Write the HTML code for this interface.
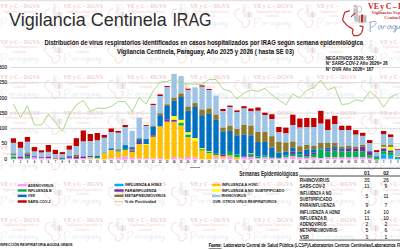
<!DOCTYPE html>
<html><head><meta charset="utf-8">
<style>
html,body{margin:0;padding:0;background:#fff;width:400px;height:250px;overflow:hidden}
svg{display:block;position:absolute;left:0;top:0}
text{font-family:"Liberation Sans",sans-serif;fill:#1a1a1a}
.title{font-size:18.1px;fill:#2e2e2e}
.sub{font-size:6.5px;font-weight:bold;fill:#111}
.st{font-size:4.5px;font-weight:bold;fill:#111}
.yl{font-size:5.1px;fill:#262626;stroke:#262626;stroke-width:0.12px}
.xl{font-size:2.6px;font-weight:bold;fill:#333}
.lg{font-size:4.2px;font-weight:bold;fill:#1a1a1a}
.sem{font-size:6.3px;font-weight:bold;fill:#222}
.tiny{font-size:2.2px;font-weight:bold}
.tb{font-size:4.9px;font-weight:bold;fill:#1a1a1a}
.tv{font-size:5px;fill:#111;stroke:#111;stroke-width:0.05px}
.th{font-size:5px;font-weight:bold;fill:#111}
.ft{font-size:4.3px;font-weight:bold;fill:#111}
.src{font-size:4.6px;fill:#000;stroke:#000;stroke-width:0.1px}
</style></head>
<body>
<svg width="400" height="250" viewBox="0 0 400 250">
<defs><g id="wm">
<g transform="scale(0.74) translate(-368,-6.7)"><path d="M349.4,10.9 L344.8,12.2 C344,14 343.2,17 342.6,19.8 C343.2,21.5 344,22.3 344.8,22.8 C346,24.5 347.5,25.8 348.6,26.6 C350.5,27.6 352,28.5 353.2,29.6 C352.6,30.6 352.3,31.8 352.4,32.7 C353,34.2 353.5,35.3 354,35.7 L357.8,35.7 C359.6,34.8 361,33.8 361.6,32.7 C362.6,30.5 363,28.5 363,26.6 L360,25.8" fill="none" stroke="#f1cfd0" stroke-width="1.0" stroke-linejoin="round" stroke-linecap="round"/>
<circle cx="355.4" cy="6.2" r="1.8" fill="#f0f0f0"/>
<path d="M353.6,8.2 C353,11 353.2,15 354.2,18.5 L354.6,21.8 L358.2,21.8 L357.8,16 C358.2,13 357.8,10 357,8.2 Z" fill="#f0f0f0"/>
<rect x="357.9" y="15" width="8.8" height="7.7" fill="#f3f3f3"/>
<rect x="358.8" y="15.8" width="1.2" height="6.8" fill="#ececec"/>
<rect x="364.6" y="15.8" width="1.2" height="6.8" fill="#ececec"/>
<ellipse cx="359.4" cy="9.2" rx="2.2" ry="3.2" fill="none" stroke="#ececec" stroke-width="0.7"/>
<path d="M351.2,16.6 L354.8,13.4" stroke="#f1cfd0" stroke-width="0.9" stroke-linecap="round"/>
<rect x="361" y="14.5" width="2.2" height="8.2" fill="#f1cfd0"/></g>
<text x="0" y="2.1" font-weight="bold" style="font-family:'Liberation Serif',serif;font-size:5.8px;fill:#f1cdcf" textLength="39.4" lengthAdjust="spacingAndGlyphs">VE y C – DGVS</text>
<text x="2.4" y="6.9" style="font-family:'Liberation Serif',serif;font-size:3.2px;fill:#f2cfcf" textLength="36" lengthAdjust="spacingAndGlyphs">Vigilancias Especiales y</text>
<text x="12.4" y="11.2" style="font-family:'Liberation Serif',serif;font-size:3.2px;fill:#f2cfcf" textLength="13" lengthAdjust="spacingAndGlyphs">Centinela</text>
<path transform="translate(0.4,12.2) scale(0.92) translate(-369.4,-21.4)" d="M370.3,22 C370.4,25 370.1,28.5 369.9,31.3 C370,31.8 370.6,31.8 371,31.4 M369.4,22.6 C371,21.4 374,21 375.6,21.8 C376.6,22.8 376,24.6 374.6,25.6 C373.4,26.6 372,27.2 370.9,27.3 M381.6,26.2 C380.6,25.4 379,25.6 378.4,26.8 C377.9,28 378.3,29 379.2,29 C380.2,28.9 381.3,27.2 381.7,25.8 C381.6,27.4 381.8,28.8 382.6,29 C383.2,28.8 383.4,27.4 383.6,26.2 C384.2,25.6 385.2,25.8 386,26.4 M390.8,26.2 C389.8,25.4 388.2,25.6 387.6,26.8 C387.1,28 387.5,29 388.4,29 C389.4,28.9 390.5,27.2 390.9,25.8 C390.8,27.4 391,28.8 391.8,29 M395.6,26 C394.6,25.4 393,25.7 392.6,26.9 C392.3,28.1 393,28.9 393.9,28.7 C394.9,28.4 395.6,27 395.8,25.8 C395.9,27.8 395.8,30.5 395.2,31.8 C394.6,32.6 393.4,32.2 393.6,31.2 C394.2,30.2 395.6,29.6 396.8,29 M397,26 C396.8,27.4 397.1,28.8 397.9,28.9 C398.8,28.9 399.5,27.4 399.8,25.9 C399.8,27.4 400,28.6 400.5,29 C401.2,27.6 401.4,26.2 401.4,26.2 M404.6,26.2 C403.6,25.4 402,25.6 401.4,26.8 C400.9,28 401.3,29 402.2,29 C403.2,28.9 404.3,27.2 404.7,25.8 C404.6,27.4 404.8,28.8 405.6,29 M406.2,26 C406,27.4 406.3,28.8 407.1,28.9 C408,28.9 408.7,27.4 409,25.9 C409.1,28 409,30.5 408.4,31.8 C407.8,32.6 406.6,32.2 406.8,31.2 C407.4,30.2 408.8,29.6 410,29" fill="none" stroke="#e4e9ef" stroke-width="0.7" stroke-linecap="round" stroke-linejoin="round"/>
</g></defs>
<g opacity="1"><use href="#wm" x="-63.00" y="-29.80"/>
<use href="#wm" x="0.30" y="-29.80"/>
<use href="#wm" x="63.60" y="-29.80"/>
<use href="#wm" x="126.90" y="-29.80"/>
<use href="#wm" x="190.20" y="-29.80"/>
<use href="#wm" x="253.50" y="-29.80"/>
<use href="#wm" x="316.80" y="-29.80"/>
<use href="#wm" x="380.10" y="-29.80"/>
<use href="#wm" x="443.40" y="-29.80"/>
<use href="#wm" x="-63.00" y="5.80"/>
<use href="#wm" x="0.30" y="5.80"/>
<use href="#wm" x="63.60" y="5.80"/>
<use href="#wm" x="126.90" y="5.80"/>
<use href="#wm" x="190.20" y="5.80"/>
<use href="#wm" x="253.50" y="5.80"/>
<use href="#wm" x="316.80" y="5.80"/>
<use href="#wm" x="380.10" y="5.80"/>
<use href="#wm" x="443.40" y="5.80"/>
<use href="#wm" x="-63.00" y="41.40"/>
<use href="#wm" x="0.30" y="41.40"/>
<use href="#wm" x="63.60" y="41.40"/>
<use href="#wm" x="126.90" y="41.40"/>
<use href="#wm" x="190.20" y="41.40"/>
<use href="#wm" x="253.50" y="41.40"/>
<use href="#wm" x="316.80" y="41.40"/>
<use href="#wm" x="380.10" y="41.40"/>
<use href="#wm" x="443.40" y="41.40"/>
<use href="#wm" x="-63.00" y="77.00"/>
<use href="#wm" x="0.30" y="77.00"/>
<use href="#wm" x="63.60" y="77.00"/>
<use href="#wm" x="126.90" y="77.00"/>
<use href="#wm" x="190.20" y="77.00"/>
<use href="#wm" x="253.50" y="77.00"/>
<use href="#wm" x="316.80" y="77.00"/>
<use href="#wm" x="380.10" y="77.00"/>
<use href="#wm" x="443.40" y="77.00"/>
<use href="#wm" x="-63.00" y="112.60"/>
<use href="#wm" x="0.30" y="112.60"/>
<use href="#wm" x="63.60" y="112.60"/>
<use href="#wm" x="126.90" y="112.60"/>
<use href="#wm" x="190.20" y="112.60"/>
<use href="#wm" x="253.50" y="112.60"/>
<use href="#wm" x="316.80" y="112.60"/>
<use href="#wm" x="380.10" y="112.60"/>
<use href="#wm" x="443.40" y="112.60"/>
<use href="#wm" x="-63.00" y="148.20"/>
<use href="#wm" x="0.30" y="148.20"/>
<use href="#wm" x="63.60" y="148.20"/>
<use href="#wm" x="126.90" y="148.20"/>
<use href="#wm" x="190.20" y="148.20"/>
<use href="#wm" x="253.50" y="148.20"/>
<use href="#wm" x="316.80" y="148.20"/>
<use href="#wm" x="380.10" y="148.20"/>
<use href="#wm" x="443.40" y="148.20"/>
<use href="#wm" x="-63.00" y="183.80"/>
<use href="#wm" x="0.30" y="183.80"/>
<use href="#wm" x="63.60" y="183.80"/>
<use href="#wm" x="126.90" y="183.80"/>
<use href="#wm" x="190.20" y="183.80"/>
<use href="#wm" x="253.50" y="183.80"/>
<use href="#wm" x="316.80" y="183.80"/>
<use href="#wm" x="380.10" y="183.80"/>
<use href="#wm" x="443.40" y="183.80"/>
<use href="#wm" x="-63.00" y="219.40"/>
<use href="#wm" x="0.30" y="219.40"/>
<use href="#wm" x="63.60" y="219.40"/>
<use href="#wm" x="126.90" y="219.40"/>
<use href="#wm" x="190.20" y="219.40"/>
<use href="#wm" x="253.50" y="219.40"/>
<use href="#wm" x="316.80" y="219.40"/>
<use href="#wm" x="380.10" y="219.40"/>
<use href="#wm" x="443.40" y="219.40"/>
<use href="#wm" x="-63.00" y="255.00"/>
<use href="#wm" x="0.30" y="255.00"/>
<use href="#wm" x="63.60" y="255.00"/>
<use href="#wm" x="126.90" y="255.00"/>
<use href="#wm" x="190.20" y="255.00"/>
<use href="#wm" x="253.50" y="255.00"/>
<use href="#wm" x="316.80" y="255.00"/>
<use href="#wm" x="380.10" y="255.00"/>
<use href="#wm" x="443.40" y="255.00"/></g>
<rect x="0" y="0" width="400" height="1.3" fill="#e3e3e3"/>
<line x1="10.5" y1="67.5" x2="400" y2="67.5" stroke="#d4d4d4" stroke-width="0.8"/>
<line x1="10.5" y1="82.6" x2="400" y2="82.6" stroke="#d4d4d4" stroke-width="0.8"/>
<line x1="10.5" y1="97.85" x2="400" y2="97.85" stroke="#d4d4d4" stroke-width="0.8"/>
<line x1="10.5" y1="113.1" x2="400" y2="113.1" stroke="#d4d4d4" stroke-width="0.8"/>
<line x1="10.5" y1="128.35" x2="400" y2="128.35" stroke="#d4d4d4" stroke-width="0.8"/>
<line x1="10.5" y1="143.6" x2="400" y2="143.6" stroke="#d4d4d4" stroke-width="0.8"/>
<text x="7.2" y="69.25" text-anchor="end" class="yl">300</text>
<text x="7.2" y="84.35" text-anchor="end" class="yl">250</text>
<text x="7.2" y="99.60" text-anchor="end" class="yl">200</text>
<text x="7.2" y="114.85" text-anchor="end" class="yl">150</text>
<text x="7.2" y="130.10" text-anchor="end" class="yl">100</text>
<text x="7.2" y="145.35" text-anchor="end" class="yl">50</text>
<text x="7.2" y="160.65" text-anchor="end" class="yl">0</text>
<line x1="380.2" y1="60" x2="380.2" y2="168" stroke="#ececec" stroke-width="0.6"/>
<rect x="10.80" y="138.30" width="5.3" height="4.60" fill="#c00000"/>
<rect x="10.80" y="142.90" width="5.3" height="10.60" fill="#9dc3e6"/>
<rect x="10.80" y="153.50" width="5.3" height="0.90" fill="#8f7a2a"/>
<rect x="10.80" y="154.40" width="5.3" height="1.20" fill="#0070c0"/>
<rect x="10.80" y="155.60" width="5.3" height="0.90" fill="#ffff00"/>
<rect x="10.80" y="156.50" width="5.3" height="2.30" fill="#00b050"/>
<rect x="10.80" y="158.80" width="5.3" height="0.60" fill="#ff99ff"/>
<rect x="17.79" y="141.80" width="5.3" height="6.10" fill="#c00000"/>
<rect x="17.79" y="147.90" width="5.3" height="8.80" fill="#9dc3e6"/>
<rect x="17.79" y="156.70" width="5.3" height="1.90" fill="#7030a0"/>
<rect x="17.79" y="158.60" width="5.3" height="0.80" fill="#ff99ff"/>
<rect x="24.77" y="137.00" width="5.3" height="4.80" fill="#c00000"/>
<rect x="24.77" y="141.80" width="5.3" height="10.70" fill="#9dc3e6"/>
<rect x="24.77" y="152.50" width="5.3" height="1.30" fill="#8f7a2a"/>
<rect x="24.77" y="153.80" width="5.3" height="0.80" fill="#0070c0"/>
<rect x="24.77" y="154.60" width="5.3" height="1.60" fill="#7030a0"/>
<rect x="24.77" y="156.20" width="5.3" height="2.40" fill="#00b050"/>
<rect x="24.77" y="158.60" width="5.3" height="0.80" fill="#ff99ff"/>
<rect x="31.76" y="147.10" width="5.3" height="4.50" fill="#c00000"/>
<rect x="31.76" y="151.60" width="5.3" height="4.40" fill="#9dc3e6"/>
<rect x="31.76" y="156.00" width="5.3" height="0.60" fill="#0070c0"/>
<rect x="31.76" y="156.60" width="5.3" height="1.00" fill="#7030a0"/>
<rect x="31.76" y="157.60" width="5.3" height="1.80" fill="#ff99ff"/>
<rect x="38.74" y="150.30" width="5.3" height="2.40" fill="#c00000"/>
<rect x="38.74" y="152.70" width="5.3" height="4.30" fill="#9dc3e6"/>
<rect x="38.74" y="157.00" width="5.3" height="0.60" fill="#0070c0"/>
<rect x="38.74" y="157.60" width="5.3" height="0.60" fill="#7030a0"/>
<rect x="38.74" y="158.20" width="5.3" height="1.20" fill="#ff99ff"/>
<rect x="45.73" y="145.00" width="5.3" height="6.90" fill="#c00000"/>
<rect x="45.73" y="151.90" width="5.3" height="4.80" fill="#9dc3e6"/>
<rect x="45.73" y="156.70" width="5.3" height="1.60" fill="#7030a0"/>
<rect x="45.73" y="158.30" width="5.3" height="1.10" fill="#ff99ff"/>
<rect x="52.71" y="149.80" width="5.3" height="4.30" fill="#c00000"/>
<rect x="52.71" y="154.10" width="5.3" height="3.70" fill="#9dc3e6"/>
<rect x="52.71" y="157.80" width="5.3" height="1.00" fill="#8f7a2a"/>
<rect x="52.71" y="158.80" width="5.3" height="0.60" fill="#ff99ff"/>
<rect x="59.70" y="152.10" width="5.3" height="2.30" fill="#c00000"/>
<rect x="59.70" y="154.40" width="5.3" height="3.10" fill="#9dc3e6"/>
<rect x="59.70" y="157.50" width="5.3" height="0.80" fill="#8f7a2a"/>
<rect x="59.70" y="158.30" width="5.3" height="1.10" fill="#0070c0"/>
<rect x="66.68" y="145.60" width="5.3" height="4.15" fill="#c00000"/>
<rect x="66.68" y="149.75" width="5.3" height="6.45" fill="#9dc3e6"/>
<rect x="66.68" y="156.20" width="5.3" height="1.10" fill="#0070c0"/>
<rect x="66.68" y="157.30" width="5.3" height="1.20" fill="#7030a0"/>
<rect x="66.68" y="158.50" width="5.3" height="0.90" fill="#ff99ff"/>
<rect x="73.66" y="138.20" width="5.3" height="8.00" fill="#c00000"/>
<rect x="73.66" y="146.20" width="5.3" height="8.80" fill="#9dc3e6"/>
<rect x="73.66" y="155.00" width="5.3" height="1.90" fill="#8f7a2a"/>
<rect x="73.66" y="156.90" width="5.3" height="1.90" fill="#7030a0"/>
<rect x="73.66" y="158.80" width="5.3" height="0.60" fill="#ff99ff"/>
<rect x="80.65" y="130.50" width="5.3" height="11.10" fill="#c00000"/>
<rect x="80.65" y="141.60" width="5.3" height="14.90" fill="#9dc3e6"/>
<rect x="80.65" y="156.50" width="5.3" height="1.90" fill="#7030a0"/>
<rect x="80.65" y="158.40" width="5.3" height="1.00" fill="#ff99ff"/>
<rect x="87.64" y="134.00" width="5.3" height="7.30" fill="#c00000"/>
<rect x="87.64" y="141.30" width="5.3" height="14.70" fill="#9dc3e6"/>
<rect x="87.64" y="156.00" width="5.3" height="1.25" fill="#0070c0"/>
<rect x="87.64" y="157.25" width="5.3" height="1.50" fill="#ffc000"/>
<rect x="87.64" y="158.75" width="5.3" height="0.65" fill="#ff99ff"/>
<rect x="94.62" y="133.00" width="5.3" height="7.50" fill="#c00000"/>
<rect x="94.62" y="140.50" width="5.3" height="15.50" fill="#9dc3e6"/>
<rect x="94.62" y="156.00" width="5.3" height="1.00" fill="#0070c0"/>
<rect x="94.62" y="157.00" width="5.3" height="1.10" fill="#00b050"/>
<rect x="94.62" y="158.10" width="5.3" height="0.80" fill="#ffc000"/>
<rect x="94.62" y="158.90" width="5.3" height="0.50" fill="#ff99ff"/>
<rect x="101.61" y="134.90" width="5.3" height="2.90" fill="#c00000"/>
<rect x="101.61" y="137.80" width="5.3" height="14.80" fill="#9dc3e6"/>
<rect x="101.61" y="152.60" width="5.3" height="1.00" fill="#8f7a2a"/>
<rect x="101.61" y="153.60" width="5.3" height="5.80" fill="#ffc000"/>
<rect x="108.59" y="128.50" width="5.3" height="3.50" fill="#c00000"/>
<rect x="108.59" y="132.00" width="5.3" height="16.40" fill="#9dc3e6"/>
<rect x="108.59" y="148.40" width="5.3" height="1.70" fill="#0070c0"/>
<rect x="108.59" y="150.10" width="5.3" height="8.30" fill="#ffc000"/>
<rect x="108.59" y="158.40" width="5.3" height="1.00" fill="#ff99ff"/>
<rect x="115.58" y="130.90" width="5.3" height="1.90" fill="#c00000"/>
<rect x="115.58" y="132.80" width="5.3" height="16.50" fill="#9dc3e6"/>
<rect x="115.58" y="149.30" width="5.3" height="1.20" fill="#8f7a2a"/>
<rect x="115.58" y="150.50" width="5.3" height="1.10" fill="#0070c0"/>
<rect x="115.58" y="151.60" width="5.3" height="5.80" fill="#ffc000"/>
<rect x="115.58" y="157.40" width="5.3" height="2.00" fill="#ff99ff"/>
<rect x="122.56" y="125.00" width="5.3" height="2.00" fill="#c00000"/>
<rect x="122.56" y="127.00" width="5.3" height="18.20" fill="#9dc3e6"/>
<rect x="122.56" y="145.20" width="5.3" height="3.70" fill="#0070c0"/>
<rect x="122.56" y="148.90" width="5.3" height="1.10" fill="#00b050"/>
<rect x="122.56" y="150.00" width="5.3" height="6.60" fill="#ffc000"/>
<rect x="122.56" y="156.60" width="5.3" height="2.80" fill="#ff99ff"/>
<rect x="129.54" y="130.90" width="5.3" height="16.30" fill="#9dc3e6"/>
<rect x="129.54" y="147.20" width="5.3" height="2.20" fill="#0070c0"/>
<rect x="129.54" y="149.40" width="5.3" height="1.20" fill="#8f7a2a"/>
<rect x="129.54" y="150.60" width="5.3" height="1.30" fill="#7030a0"/>
<rect x="129.54" y="151.90" width="5.3" height="5.90" fill="#ffc000"/>
<rect x="129.54" y="157.80" width="5.3" height="1.60" fill="#ff99ff"/>
<rect x="136.53" y="117.70" width="5.3" height="20.50" fill="#9dc3e6"/>
<rect x="136.53" y="138.20" width="5.3" height="0.90" fill="#8f7a2a"/>
<rect x="136.53" y="139.10" width="5.3" height="2.90" fill="#0070c0"/>
<rect x="136.53" y="142.00" width="5.3" height="2.00" fill="#7030a0"/>
<rect x="136.53" y="144.00" width="5.3" height="14.40" fill="#ffc000"/>
<rect x="136.53" y="158.40" width="5.3" height="1.00" fill="#ff99ff"/>
<rect x="143.51" y="125.10" width="5.3" height="1.10" fill="#c00000"/>
<rect x="143.51" y="126.20" width="5.3" height="12.90" fill="#9dc3e6"/>
<rect x="143.51" y="139.10" width="5.3" height="4.90" fill="#0070c0"/>
<rect x="143.51" y="144.00" width="5.3" height="1.00" fill="#ffff00"/>
<rect x="143.51" y="145.00" width="5.3" height="13.40" fill="#ffc000"/>
<rect x="143.51" y="158.40" width="5.3" height="1.00" fill="#ff99ff"/>
<rect x="150.50" y="103.80" width="5.3" height="1.30" fill="#c00000"/>
<rect x="150.50" y="105.10" width="5.3" height="20.60" fill="#9dc3e6"/>
<rect x="150.50" y="125.70" width="5.3" height="0.90" fill="#8f7a2a"/>
<rect x="150.50" y="126.60" width="5.3" height="8.70" fill="#0070c0"/>
<rect x="150.50" y="135.30" width="5.3" height="1.50" fill="#7030a0"/>
<rect x="150.50" y="136.80" width="5.3" height="21.60" fill="#ffc000"/>
<rect x="150.50" y="158.40" width="5.3" height="1.00" fill="#ff99ff"/>
<rect x="157.48" y="94.40" width="5.3" height="1.60" fill="#c00000"/>
<rect x="157.48" y="96.00" width="5.3" height="17.30" fill="#9dc3e6"/>
<rect x="157.48" y="113.30" width="5.3" height="1.90" fill="#8f7a2a"/>
<rect x="157.48" y="115.20" width="5.3" height="11.40" fill="#0070c0"/>
<rect x="157.48" y="126.60" width="5.3" height="31.40" fill="#ffc000"/>
<rect x="157.48" y="158.00" width="5.3" height="1.40" fill="#ff99ff"/>
<rect x="164.47" y="86.00" width="5.3" height="1.30" fill="#c00000"/>
<rect x="164.47" y="87.30" width="5.3" height="17.00" fill="#9dc3e6"/>
<rect x="164.47" y="104.30" width="5.3" height="1.70" fill="#8f7a2a"/>
<rect x="164.47" y="106.00" width="5.3" height="13.30" fill="#0070c0"/>
<rect x="164.47" y="119.30" width="5.3" height="2.50" fill="#7030a0"/>
<rect x="164.47" y="121.80" width="5.3" height="37.60" fill="#ffc000"/>
<rect x="171.45" y="73.85" width="5.3" height="24.05" fill="#9dc3e6"/>
<rect x="171.45" y="97.90" width="5.3" height="2.90" fill="#8f7a2a"/>
<rect x="171.45" y="100.80" width="5.3" height="15.40" fill="#0070c0"/>
<rect x="171.45" y="116.20" width="5.3" height="3.70" fill="#ffff00"/>
<rect x="171.45" y="119.90" width="5.3" height="1.90" fill="#7030a0"/>
<rect x="171.45" y="121.80" width="5.3" height="35.20" fill="#ffc000"/>
<rect x="171.45" y="157.00" width="5.3" height="2.40" fill="#ff99ff"/>
<rect x="178.44" y="76.20" width="5.3" height="17.30" fill="#9dc3e6"/>
<rect x="178.44" y="93.50" width="5.3" height="3.50" fill="#8f7a2a"/>
<rect x="178.44" y="97.00" width="5.3" height="22.90" fill="#0070c0"/>
<rect x="178.44" y="119.90" width="5.3" height="2.90" fill="#ffff00"/>
<rect x="178.44" y="122.80" width="5.3" height="2.90" fill="#00b050"/>
<rect x="178.44" y="125.70" width="5.3" height="32.70" fill="#ffc000"/>
<rect x="178.44" y="158.40" width="5.3" height="1.00" fill="#ff99ff"/>
<rect x="185.42" y="88.70" width="5.3" height="1.20" fill="#c00000"/>
<rect x="185.42" y="89.90" width="5.3" height="16.70" fill="#9dc3e6"/>
<rect x="185.42" y="106.60" width="5.3" height="4.20" fill="#8f7a2a"/>
<rect x="185.42" y="110.80" width="5.3" height="21.60" fill="#0070c0"/>
<rect x="185.42" y="132.40" width="5.3" height="2.30" fill="#ffff00"/>
<rect x="185.42" y="134.70" width="5.3" height="2.50" fill="#00b050"/>
<rect x="185.42" y="137.20" width="5.3" height="19.80" fill="#ffc000"/>
<rect x="185.42" y="157.00" width="5.3" height="2.40" fill="#ff99ff"/>
<rect x="192.41" y="87.30" width="5.3" height="15.80" fill="#9dc3e6"/>
<rect x="192.41" y="103.10" width="5.3" height="3.90" fill="#8f7a2a"/>
<rect x="192.41" y="107.00" width="5.3" height="31.20" fill="#0070c0"/>
<rect x="192.41" y="138.20" width="5.3" height="2.80" fill="#ffff00"/>
<rect x="192.41" y="141.00" width="5.3" height="16.40" fill="#ffc000"/>
<rect x="192.41" y="157.40" width="5.3" height="2.00" fill="#ff99ff"/>
<rect x="199.39" y="85.40" width="5.3" height="1.40" fill="#c00000"/>
<rect x="199.39" y="86.80" width="5.3" height="22.70" fill="#9dc3e6"/>
<rect x="199.39" y="109.50" width="5.3" height="5.70" fill="#8f7a2a"/>
<rect x="199.39" y="115.20" width="5.3" height="32.90" fill="#0070c0"/>
<rect x="199.39" y="148.10" width="5.3" height="1.10" fill="#ffff00"/>
<rect x="199.39" y="149.20" width="5.3" height="1.40" fill="#00b050"/>
<rect x="199.39" y="150.60" width="5.3" height="8.80" fill="#ffc000"/>
<rect x="206.38" y="88.90" width="5.3" height="1.30" fill="#c00000"/>
<rect x="206.38" y="90.20" width="5.3" height="18.30" fill="#9dc3e6"/>
<rect x="206.38" y="108.50" width="5.3" height="5.40" fill="#8f7a2a"/>
<rect x="206.38" y="113.90" width="5.3" height="37.10" fill="#0070c0"/>
<rect x="206.38" y="151.00" width="5.3" height="0.70" fill="#ffff00"/>
<rect x="206.38" y="151.70" width="5.3" height="1.40" fill="#00b050"/>
<rect x="206.38" y="153.10" width="5.3" height="6.30" fill="#ffc000"/>
<rect x="213.36" y="95.60" width="5.3" height="19.10" fill="#9dc3e6"/>
<rect x="213.36" y="114.70" width="5.3" height="5.20" fill="#8f7a2a"/>
<rect x="213.36" y="119.90" width="5.3" height="33.85" fill="#0070c0"/>
<rect x="213.36" y="153.75" width="5.3" height="1.25" fill="#00b050"/>
<rect x="213.36" y="155.00" width="5.3" height="2.50" fill="#ffc000"/>
<rect x="213.36" y="157.50" width="5.3" height="1.90" fill="#ff99ff"/>
<rect x="220.35" y="109.00" width="5.3" height="2.00" fill="#c00000"/>
<rect x="220.35" y="111.00" width="5.3" height="16.60" fill="#9dc3e6"/>
<rect x="220.35" y="127.60" width="5.3" height="3.80" fill="#8f7a2a"/>
<rect x="220.35" y="131.40" width="5.3" height="23.10" fill="#0070c0"/>
<rect x="220.35" y="154.50" width="5.3" height="2.00" fill="#7030a0"/>
<rect x="220.35" y="156.50" width="5.3" height="1.90" fill="#ffc000"/>
<rect x="220.35" y="158.40" width="5.3" height="1.00" fill="#ff99ff"/>
<rect x="227.33" y="105.60" width="5.3" height="1.60" fill="#c00000"/>
<rect x="227.33" y="107.20" width="5.3" height="18.50" fill="#9dc3e6"/>
<rect x="227.33" y="125.70" width="5.3" height="5.20" fill="#8f7a2a"/>
<rect x="227.33" y="130.90" width="5.3" height="21.00" fill="#0070c0"/>
<rect x="227.33" y="151.90" width="5.3" height="3.70" fill="#00b050"/>
<rect x="227.33" y="155.60" width="5.3" height="1.40" fill="#ffc000"/>
<rect x="227.33" y="157.00" width="5.3" height="2.40" fill="#ff99ff"/>
<rect x="234.32" y="110.40" width="5.3" height="1.60" fill="#c00000"/>
<rect x="234.32" y="112.00" width="5.3" height="17.00" fill="#9dc3e6"/>
<rect x="234.32" y="129.00" width="5.3" height="6.30" fill="#8f7a2a"/>
<rect x="234.32" y="135.30" width="5.3" height="19.20" fill="#0070c0"/>
<rect x="234.32" y="154.50" width="5.3" height="2.90" fill="#00b050"/>
<rect x="234.32" y="157.40" width="5.3" height="2.00" fill="#ffc000"/>
<rect x="241.31" y="106.20" width="5.3" height="2.30" fill="#c00000"/>
<rect x="241.31" y="108.50" width="5.3" height="16.50" fill="#9dc3e6"/>
<rect x="241.31" y="125.00" width="5.3" height="9.70" fill="#8f7a2a"/>
<rect x="241.31" y="134.70" width="5.3" height="21.80" fill="#0070c0"/>
<rect x="241.31" y="156.50" width="5.3" height="0.90" fill="#7030a0"/>
<rect x="241.31" y="157.40" width="5.3" height="2.00" fill="#ff99ff"/>
<rect x="248.29" y="108.50" width="5.3" height="2.90" fill="#c00000"/>
<rect x="248.29" y="111.40" width="5.3" height="14.30" fill="#9dc3e6"/>
<rect x="248.29" y="125.70" width="5.3" height="9.60" fill="#8f7a2a"/>
<rect x="248.29" y="135.30" width="5.3" height="17.80" fill="#0070c0"/>
<rect x="248.29" y="153.10" width="5.3" height="0.60" fill="#ffff00"/>
<rect x="248.29" y="153.70" width="5.3" height="1.00" fill="#7030a0"/>
<rect x="248.29" y="154.70" width="5.3" height="2.20" fill="#00b050"/>
<rect x="248.29" y="156.90" width="5.3" height="2.50" fill="#ff99ff"/>
<rect x="255.28" y="107.50" width="5.3" height="3.30" fill="#c00000"/>
<rect x="255.28" y="110.80" width="5.3" height="21.20" fill="#9dc3e6"/>
<rect x="255.28" y="132.00" width="5.3" height="10.00" fill="#8f7a2a"/>
<rect x="255.28" y="142.00" width="5.3" height="14.50" fill="#0070c0"/>
<rect x="255.28" y="156.50" width="5.3" height="1.90" fill="#00b050"/>
<rect x="255.28" y="158.40" width="5.3" height="1.00" fill="#ff99ff"/>
<rect x="262.26" y="112.70" width="5.3" height="2.50" fill="#c00000"/>
<rect x="262.26" y="115.20" width="5.3" height="16.80" fill="#9dc3e6"/>
<rect x="262.26" y="132.00" width="5.3" height="10.00" fill="#8f7a2a"/>
<rect x="262.26" y="142.00" width="5.3" height="13.50" fill="#0070c0"/>
<rect x="262.26" y="155.50" width="5.3" height="1.90" fill="#00b050"/>
<rect x="262.26" y="157.40" width="5.3" height="2.00" fill="#ff99ff"/>
<rect x="269.25" y="114.30" width="5.3" height="4.70" fill="#c00000"/>
<rect x="269.25" y="119.00" width="5.3" height="17.20" fill="#9dc3e6"/>
<rect x="269.25" y="136.20" width="5.3" height="11.60" fill="#8f7a2a"/>
<rect x="269.25" y="147.80" width="5.3" height="9.60" fill="#0070c0"/>
<rect x="269.25" y="157.40" width="5.3" height="1.00" fill="#00b050"/>
<rect x="269.25" y="158.40" width="5.3" height="1.00" fill="#ff99ff"/>
<rect x="276.23" y="127.00" width="5.3" height="5.40" fill="#c00000"/>
<rect x="276.23" y="132.40" width="5.3" height="9.60" fill="#9dc3e6"/>
<rect x="276.23" y="142.00" width="5.3" height="10.60" fill="#8f7a2a"/>
<rect x="276.23" y="152.60" width="5.3" height="4.40" fill="#0070c0"/>
<rect x="276.23" y="157.00" width="5.3" height="1.40" fill="#00b050"/>
<rect x="276.23" y="158.40" width="5.3" height="1.00" fill="#ff99ff"/>
<rect x="283.22" y="127.60" width="5.3" height="5.80" fill="#c00000"/>
<rect x="283.22" y="133.40" width="5.3" height="9.20" fill="#9dc3e6"/>
<rect x="283.22" y="142.60" width="5.3" height="9.00" fill="#8f7a2a"/>
<rect x="283.22" y="151.60" width="5.3" height="3.90" fill="#0070c0"/>
<rect x="283.22" y="155.50" width="5.3" height="1.90" fill="#00b050"/>
<rect x="283.22" y="157.40" width="5.3" height="2.00" fill="#ff99ff"/>
<rect x="290.20" y="114.70" width="5.3" height="10.30" fill="#c00000"/>
<rect x="290.20" y="125.00" width="5.3" height="16.60" fill="#9dc3e6"/>
<rect x="290.20" y="141.60" width="5.3" height="6.20" fill="#8f7a2a"/>
<rect x="290.20" y="147.80" width="5.3" height="3.80" fill="#0070c0"/>
<rect x="290.20" y="151.60" width="5.3" height="2.40" fill="#7030a0"/>
<rect x="290.20" y="154.00" width="5.3" height="2.50" fill="#00b050"/>
<rect x="290.20" y="156.50" width="5.3" height="2.90" fill="#ff99ff"/>
<rect x="297.19" y="118.50" width="5.3" height="9.10" fill="#c00000"/>
<rect x="297.19" y="127.60" width="5.3" height="18.70" fill="#9dc3e6"/>
<rect x="297.19" y="146.30" width="5.3" height="5.30" fill="#8f7a2a"/>
<rect x="297.19" y="151.60" width="5.3" height="2.90" fill="#0070c0"/>
<rect x="297.19" y="154.50" width="5.3" height="2.90" fill="#00b050"/>
<rect x="297.19" y="157.40" width="5.3" height="2.00" fill="#ff99ff"/>
<rect x="304.17" y="118.00" width="5.3" height="9.00" fill="#c00000"/>
<rect x="304.17" y="127.00" width="5.3" height="18.00" fill="#9dc3e6"/>
<rect x="304.17" y="145.00" width="5.3" height="4.70" fill="#8f7a2a"/>
<rect x="304.17" y="149.70" width="5.3" height="4.40" fill="#0070c0"/>
<rect x="304.17" y="154.10" width="5.3" height="2.40" fill="#7030a0"/>
<rect x="304.17" y="156.50" width="5.3" height="1.30" fill="#00b050"/>
<rect x="304.17" y="157.80" width="5.3" height="1.60" fill="#ff99ff"/>
<rect x="311.16" y="118.00" width="5.3" height="9.00" fill="#c00000"/>
<rect x="311.16" y="127.00" width="5.3" height="18.90" fill="#9dc3e6"/>
<rect x="311.16" y="145.90" width="5.3" height="3.40" fill="#8f7a2a"/>
<rect x="311.16" y="149.30" width="5.3" height="3.30" fill="#0070c0"/>
<rect x="311.16" y="152.60" width="5.3" height="1.40" fill="#7030a0"/>
<rect x="311.16" y="154.00" width="5.3" height="3.40" fill="#00b050"/>
<rect x="311.16" y="157.40" width="5.3" height="2.00" fill="#ff99ff"/>
<rect x="318.14" y="110.80" width="5.3" height="12.90" fill="#c00000"/>
<rect x="318.14" y="123.70" width="5.3" height="19.20" fill="#9dc3e6"/>
<rect x="318.14" y="142.90" width="5.3" height="5.60" fill="#8f7a2a"/>
<rect x="318.14" y="148.50" width="5.3" height="1.10" fill="#0070c0"/>
<rect x="318.14" y="149.60" width="5.3" height="8.70" fill="#00b050"/>
<rect x="318.14" y="158.30" width="5.3" height="1.10" fill="#ff99ff"/>
<rect x="325.12" y="119.30" width="5.3" height="10.70" fill="#c00000"/>
<rect x="325.12" y="130.00" width="5.3" height="13.00" fill="#9dc3e6"/>
<rect x="325.12" y="143.00" width="5.3" height="4.80" fill="#8f7a2a"/>
<rect x="325.12" y="147.80" width="5.3" height="1.90" fill="#0070c0"/>
<rect x="325.12" y="149.70" width="5.3" height="1.90" fill="#7030a0"/>
<rect x="325.12" y="151.60" width="5.3" height="5.80" fill="#00b050"/>
<rect x="325.12" y="157.40" width="5.3" height="2.00" fill="#ff99ff"/>
<rect x="332.11" y="115.80" width="5.3" height="8.50" fill="#c00000"/>
<rect x="332.11" y="124.30" width="5.3" height="18.70" fill="#9dc3e6"/>
<rect x="332.11" y="143.00" width="5.3" height="3.80" fill="#8f7a2a"/>
<rect x="332.11" y="146.80" width="5.3" height="2.00" fill="#0070c0"/>
<rect x="332.11" y="148.80" width="5.3" height="1.90" fill="#7030a0"/>
<rect x="332.11" y="150.70" width="5.3" height="6.70" fill="#00b050"/>
<rect x="332.11" y="157.40" width="5.3" height="2.00" fill="#ff99ff"/>
<rect x="339.10" y="125.70" width="5.3" height="4.40" fill="#c00000"/>
<rect x="339.10" y="130.10" width="5.3" height="16.70" fill="#9dc3e6"/>
<rect x="339.10" y="146.80" width="5.3" height="2.00" fill="#8f7a2a"/>
<rect x="339.10" y="148.80" width="5.3" height="1.30" fill="#0070c0"/>
<rect x="339.10" y="150.10" width="5.3" height="1.50" fill="#7030a0"/>
<rect x="339.10" y="151.60" width="5.3" height="5.80" fill="#00b050"/>
<rect x="339.10" y="157.40" width="5.3" height="2.00" fill="#ff99ff"/>
<rect x="346.08" y="125.70" width="5.3" height="4.40" fill="#c00000"/>
<rect x="346.08" y="130.10" width="5.3" height="15.80" fill="#9dc3e6"/>
<rect x="346.08" y="145.90" width="5.3" height="1.90" fill="#8f7a2a"/>
<rect x="346.08" y="147.80" width="5.3" height="1.00" fill="#0070c0"/>
<rect x="346.08" y="148.80" width="5.3" height="2.80" fill="#7030a0"/>
<rect x="346.08" y="151.60" width="5.3" height="5.80" fill="#00b050"/>
<rect x="346.08" y="157.40" width="5.3" height="2.00" fill="#ff99ff"/>
<rect x="353.07" y="130.10" width="5.3" height="4.60" fill="#c00000"/>
<rect x="353.07" y="134.70" width="5.3" height="12.10" fill="#9dc3e6"/>
<rect x="353.07" y="146.80" width="5.3" height="2.00" fill="#8f7a2a"/>
<rect x="353.07" y="148.80" width="5.3" height="2.80" fill="#7030a0"/>
<rect x="353.07" y="151.60" width="5.3" height="5.80" fill="#00b050"/>
<rect x="353.07" y="157.40" width="5.3" height="2.00" fill="#ff99ff"/>
<rect x="360.05" y="132.80" width="5.3" height="3.10" fill="#c00000"/>
<rect x="360.05" y="135.90" width="5.3" height="9.00" fill="#9dc3e6"/>
<rect x="360.05" y="144.90" width="5.3" height="1.90" fill="#8f7a2a"/>
<rect x="360.05" y="146.80" width="5.3" height="4.80" fill="#7030a0"/>
<rect x="360.05" y="151.60" width="5.3" height="5.80" fill="#00b050"/>
<rect x="360.05" y="157.40" width="5.3" height="2.00" fill="#ff99ff"/>
<rect x="367.04" y="140.10" width="5.3" height="2.90" fill="#c00000"/>
<rect x="367.04" y="143.00" width="5.3" height="8.30" fill="#9dc3e6"/>
<rect x="367.04" y="151.30" width="5.3" height="4.20" fill="#7030a0"/>
<rect x="367.04" y="155.50" width="5.3" height="2.30" fill="#00b050"/>
<rect x="367.04" y="157.80" width="5.3" height="1.60" fill="#ff99ff"/>
<rect x="374.02" y="150.10" width="5.3" height="1.90" fill="#c00000"/>
<rect x="374.02" y="152.00" width="5.3" height="4.50" fill="#9dc3e6"/>
<rect x="374.02" y="156.50" width="5.3" height="1.30" fill="#0070c0"/>
<rect x="374.02" y="157.80" width="5.3" height="1.60" fill="#00b050"/>
<rect x="381.01" y="131.03" width="5.3" height="3.35" fill="#c00000"/>
<rect x="381.01" y="134.39" width="5.3" height="10.68" fill="#9dc3e6"/>
<rect x="381.01" y="145.06" width="5.3" height="1.53" fill="#8f7a2a"/>
<rect x="381.01" y="146.59" width="5.3" height="0.31" fill="#0070c0"/>
<rect x="381.01" y="146.90" width="5.3" height="1.53" fill="#ffff00"/>
<rect x="381.01" y="148.42" width="5.3" height="2.75" fill="#7030a0"/>
<rect x="381.01" y="151.17" width="5.3" height="3.35" fill="#00b050"/>
<rect x="381.01" y="154.52" width="5.3" height="4.27" fill="#00b0f0"/>
<rect x="381.01" y="158.79" width="5.3" height="0.61" fill="#ff99ff"/>
<rect x="387.99" y="134.39" width="5.3" height="2.75" fill="#c00000"/>
<rect x="387.99" y="137.14" width="5.3" height="7.93" fill="#9dc3e6"/>
<rect x="387.99" y="145.07" width="5.3" height="1.83" fill="#8f7a2a"/>
<rect x="387.99" y="146.90" width="5.3" height="0.31" fill="#0070c0"/>
<rect x="387.99" y="147.20" width="5.3" height="3.35" fill="#ffff00"/>
<rect x="387.99" y="150.56" width="5.3" height="2.13" fill="#7030a0"/>
<rect x="387.99" y="152.69" width="5.3" height="3.05" fill="#00b050"/>
<rect x="387.99" y="155.74" width="5.3" height="3.05" fill="#00b0f0"/>
<rect x="387.99" y="158.79" width="5.3" height="0.61" fill="#ff99ff"/>
<rect x="394.98" y="149.30" width="5.3" height="1.00" fill="#c00000"/>
<rect x="394.98" y="150.30" width="5.3" height="5.30" fill="#9dc3e6"/>
<rect x="394.98" y="155.60" width="5.3" height="0.30" fill="#0070c0"/>
<rect x="394.98" y="155.90" width="5.3" height="1.10" fill="#ffff00"/>
<rect x="394.98" y="157.00" width="5.3" height="0.70" fill="#7030a0"/>
<rect x="394.98" y="157.70" width="5.3" height="1.70" fill="#00b0f0"/>
<polyline points="13.45,104.25 20.43,117.5 27.42,105.75 34.41,125 41.39,125 48.38,114.25 55.36,122 62.34,131.25 69.33,115 76.31,105 83.30,100.5 90.29,111.25 97.27,108 104.26,108.5 111.24,106.5 118.23,101.5 125.21,101.5 132.19,111.5 139.18,97.8 146.16,104 153.15,91 160.13,82 167.12,81.4 174.10,79 181.09,83.5 188.07,84 195.06,84 202.04,84.5 209.03,79.5 216.01,79.5 223.00,89 229.98,91 236.97,99 243.96,93 250.94,90 257.93,91.5 264.91,88.4 271.89,95 278.88,99.8 285.87,105 292.85,94 299.83,97.9 306.82,90.2 313.81,87.7 320.79,80 327.77,89.8 334.76,87.3 341.75,104.5 348.73,103.7 355.72,99.8 362.70,101.2 369.69,91.6 376.67,97 383.66,107.2 390.64,97 397.62,94" fill="none" stroke="#acd98a" stroke-width="1.0" stroke-linejoin="round"/>
<text x="13.45" y="162.8" text-anchor="middle" class="xl">1</text>
<text x="20.43" y="162.8" text-anchor="middle" class="xl">2</text>
<text x="27.42" y="162.8" text-anchor="middle" class="xl">3</text>
<text x="34.41" y="162.8" text-anchor="middle" class="xl">4</text>
<text x="41.39" y="162.8" text-anchor="middle" class="xl">5</text>
<text x="48.38" y="162.8" text-anchor="middle" class="xl">6</text>
<text x="55.36" y="162.8" text-anchor="middle" class="xl">7</text>
<text x="62.34" y="162.8" text-anchor="middle" class="xl">8</text>
<text x="69.33" y="162.8" text-anchor="middle" class="xl">9</text>
<text x="76.31" y="162.8" text-anchor="middle" class="xl">10</text>
<text x="83.30" y="162.8" text-anchor="middle" class="xl">11</text>
<text x="90.29" y="162.8" text-anchor="middle" class="xl">12</text>
<text x="97.27" y="162.8" text-anchor="middle" class="xl">13</text>
<text x="104.26" y="162.8" text-anchor="middle" class="xl">14</text>
<text x="111.24" y="162.8" text-anchor="middle" class="xl">15</text>
<text x="118.23" y="162.8" text-anchor="middle" class="xl">16</text>
<text x="125.21" y="162.8" text-anchor="middle" class="xl">17</text>
<text x="132.19" y="162.8" text-anchor="middle" class="xl">18</text>
<text x="139.18" y="162.8" text-anchor="middle" class="xl">19</text>
<text x="146.16" y="162.8" text-anchor="middle" class="xl">20</text>
<text x="153.15" y="162.8" text-anchor="middle" class="xl">21</text>
<text x="160.13" y="162.8" text-anchor="middle" class="xl">22</text>
<text x="167.12" y="162.8" text-anchor="middle" class="xl">23</text>
<text x="174.10" y="162.8" text-anchor="middle" class="xl">24</text>
<text x="181.09" y="162.8" text-anchor="middle" class="xl">25</text>
<text x="188.07" y="162.8" text-anchor="middle" class="xl">26</text>
<text x="195.06" y="162.8" text-anchor="middle" class="xl">27</text>
<text x="202.04" y="162.8" text-anchor="middle" class="xl">28</text>
<text x="209.03" y="162.8" text-anchor="middle" class="xl">29</text>
<text x="216.01" y="162.8" text-anchor="middle" class="xl">30</text>
<text x="223.00" y="162.8" text-anchor="middle" class="xl">31</text>
<text x="229.98" y="162.8" text-anchor="middle" class="xl">32</text>
<text x="236.97" y="162.8" text-anchor="middle" class="xl">33</text>
<text x="243.96" y="162.8" text-anchor="middle" class="xl">34</text>
<text x="250.94" y="162.8" text-anchor="middle" class="xl">35</text>
<text x="257.93" y="162.8" text-anchor="middle" class="xl">36</text>
<text x="264.91" y="162.8" text-anchor="middle" class="xl">37</text>
<text x="271.89" y="162.8" text-anchor="middle" class="xl">38</text>
<text x="278.88" y="162.8" text-anchor="middle" class="xl">39</text>
<text x="285.87" y="162.8" text-anchor="middle" class="xl">40</text>
<text x="292.85" y="162.8" text-anchor="middle" class="xl">41</text>
<text x="299.83" y="162.8" text-anchor="middle" class="xl">42</text>
<text x="306.82" y="162.8" text-anchor="middle" class="xl">43</text>
<text x="313.81" y="162.8" text-anchor="middle" class="xl">44</text>
<text x="320.79" y="162.8" text-anchor="middle" class="xl">45</text>
<text x="327.77" y="162.8" text-anchor="middle" class="xl">46</text>
<text x="334.76" y="162.8" text-anchor="middle" class="xl">47</text>
<text x="341.75" y="162.8" text-anchor="middle" class="xl">48</text>
<text x="348.73" y="162.8" text-anchor="middle" class="xl">49</text>
<text x="355.72" y="162.8" text-anchor="middle" class="xl">50</text>
<text x="362.70" y="162.8" text-anchor="middle" class="xl">51</text>
<text x="369.69" y="162.8" text-anchor="middle" class="xl">52</text>
<text x="376.67" y="162.8" text-anchor="middle" class="xl">53</text>
<text x="383.66" y="162.8" text-anchor="middle" class="xl">1</text>
<text x="390.64" y="162.8" text-anchor="middle" class="xl">2</text>
<text x="397.62" y="162.8" text-anchor="middle" class="xl">3</text>

<rect x="338" y="1.3" width="62" height="36" fill="#fff"/>
<path d="M349.4,10.9 L344.8,12.2 C344,14 343.2,17 342.6,19.8 C343.2,21.5 344,22.3 344.8,22.8 C346,24.5 347.5,25.8 348.6,26.6 C350.5,27.6 352,28.5 353.2,29.6 C352.6,30.6 352.3,31.8 352.4,32.7 C353,34.2 353.5,35.3 354,35.7 L357.8,35.7 C359.6,34.8 361,33.8 361.6,32.7 C362.6,30.5 363,28.5 363,26.6 L360,25.8" fill="none" stroke="#c42a30" stroke-width="1.2" stroke-linejoin="round" stroke-linecap="round"/>
<circle cx="355.4" cy="6.2" r="1.8" fill="#c4c4c4"/>
<path d="M353.6,8.2 C353,11 353.2,15 354.2,18.5 L354.6,21.8 L358.2,21.8 L357.8,16 C358.2,13 357.8,10 357,8.2 Z" fill="#c4c4c4"/>
<rect x="357.9" y="15" width="8.8" height="7.7" fill="#d2d2d2"/>
<rect x="358.8" y="15.8" width="1.2" height="6.8" fill="#a8a8a8"/>
<rect x="364.6" y="15.8" width="1.2" height="6.8" fill="#a8a8a8"/>
<ellipse cx="359.4" cy="9.2" rx="2.2" ry="3.2" fill="#fff" stroke="#a8a8a8" stroke-width="0.7"/>
<path d="M351.2,16.6 L354.8,13.4" stroke="#c42a30" stroke-width="1.08" stroke-linecap="round"/>
<rect x="361" y="14.5" width="2.2" height="8.2" fill="#c42a30"/>
<rect x="351" y="22.6" width="17" height="0.9" fill="#e6e6e6"/>
<text x="368.0" y="9.0" font-weight="bold" style="font-family:'Liberation Serif',serif;font-size:7.9px;fill:#c8262c;word-spacing:-0.6px">VE y C – DGVS</text>
<text x="371.5" y="14.2" font-weight="bold" style="font-family:'Liberation Serif',serif;font-size:4.4px;fill:#c8363a">Vigilancias Especiales y</text>
<text x="384.3" y="19.1" font-weight="bold" style="font-family:'Liberation Serif',serif;font-size:4.4px;fill:#c8363a">Centinela</text>
<path d="M370.3,22 C370.4,25 370.1,28.5 369.9,31.3 C370,31.8 370.6,31.8 371,31.4 M369.4,22.6 C371,21.4 374,21 375.6,21.8 C376.6,22.8 376,24.6 374.6,25.6 C373.4,26.6 372,27.2 370.9,27.3 M381.6,26.2 C380.6,25.4 379,25.6 378.4,26.8 C377.9,28 378.3,29 379.2,29 C380.2,28.9 381.3,27.2 381.7,25.8 C381.6,27.4 381.8,28.8 382.6,29 C383.2,28.8 383.4,27.4 383.6,26.2 C384.2,25.6 385.2,25.8 386,26.4 M390.8,26.2 C389.8,25.4 388.2,25.6 387.6,26.8 C387.1,28 387.5,29 388.4,29 C389.4,28.9 390.5,27.2 390.9,25.8 C390.8,27.4 391,28.8 391.8,29 M395.6,26 C394.6,25.4 393,25.7 392.6,26.9 C392.3,28.1 393,28.9 393.9,28.7 C394.9,28.4 395.6,27 395.8,25.8 C395.9,27.8 395.8,30.5 395.2,31.8 C394.6,32.6 393.4,32.2 393.6,31.2 C394.2,30.2 395.6,29.6 396.8,29 M397,26 C396.8,27.4 397.1,28.8 397.9,28.9 C398.8,28.9 399.5,27.4 399.8,25.9 C399.8,27.4 400,28.6 400.5,29 C401.2,27.6 401.4,26.2 401.4,26.2 M404.6,26.2 C403.6,25.4 402,25.6 401.4,26.8 C400.9,28 401.3,29 402.2,29 C403.2,28.9 404.3,27.2 404.7,25.8 C404.6,27.4 404.8,28.8 405.6,29 M406.2,26 C406,27.4 406.3,28.8 407.1,28.9 C408,28.9 408.7,27.4 409,25.9 C409.1,28 409,30.5 408.4,31.8 C407.8,32.6 406.6,32.2 406.8,31.2 C407.4,30.2 408.8,29.6 410,29" fill="none" stroke="#7393b4" stroke-width="0.75" stroke-linecap="round" stroke-linejoin="round"/>

<text x="9.0" y="25.8" class="title" textLength="157.8" lengthAdjust="spacingAndGlyphs">Vigilancia Centinela</text>
<text x="172.4" y="25.8" class="title" textLength="39.2" lengthAdjust="spacingAndGlyphs">IRAG</text>
<text x="44.5" y="45.3" class="sub" textLength="318.5" lengthAdjust="spacingAndGlyphs">Distribución de virus respiratorios identificados en casos hospitalizados por IRAG según semana epidemiológica</text>
<text x="117" y="53.8" class="sub" textLength="177" lengthAdjust="spacingAndGlyphs">Vigilancia Centinela, Paraguay, Año 2025 y 2026 ( hasta SE 03)</text>
<text x="325.75" y="59.6" class="st" textLength="48" lengthAdjust="spacingAndGlyphs">NEGATIVOS 2026: 552</text>
<text x="325.75" y="65.2" class="st" textLength="62" lengthAdjust="spacingAndGlyphs">N° SARS-COV-2 Año 2026= 26</text>
<text x="325.75" y="70.8" class="st" textLength="47.8" lengthAdjust="spacingAndGlyphs">N° OVR Año 2026= 187</text>
<rect x="17.7" y="184.0" width="9.0" height="2.4" fill="#ff99ff"/>
<text x="27.75" y="186.6" class="lg" textLength="25.5" lengthAdjust="spacingAndGlyphs">ADENOVIRUS</text>
<rect x="17.7" y="189.3" width="9.0" height="2.4" fill="#00b050"/>
<text x="27.75" y="191.9" class="lg" textLength="23.8" lengthAdjust="spacingAndGlyphs">INFLUENZA B</text>
<rect x="17.7" y="194.70000000000002" width="9.0" height="2.4" fill="#0070c0"/>
<text x="27.75" y="197.3" class="lg" textLength="7.2" lengthAdjust="spacingAndGlyphs">VSR</text>
<rect x="17.7" y="200.3" width="9.0" height="2.4" fill="#c00000"/>
<text x="27.75" y="202.9" class="lg" textLength="22.9" lengthAdjust="spacingAndGlyphs">SARS-COV-2</text>
<rect x="114.4" y="183.8" width="9.199999999999989" height="2.4" fill="#00b0f0"/>
<text x="124.8" y="186.4" class="lg" textLength="36.5" lengthAdjust="spacingAndGlyphs">INFLUENZA A H3N2</text>
<rect x="114.4" y="189.3" width="9.199999999999989" height="2.4" fill="#7030a0"/>
<text x="124.8" y="191.9" class="lg" textLength="31.8" lengthAdjust="spacingAndGlyphs">PARAINFLUENZA</text>
<rect x="114.4" y="194.60000000000002" width="9.199999999999989" height="2.4" fill="#8f7a2a"/>
<text x="124.8" y="197.20000000000002" class="lg" textLength="40.8" lengthAdjust="spacingAndGlyphs">METAPNEUMOVIRUS</text>
<rect x="212" y="183.8" width="8.5" height="2.4" fill="#ffc000"/>
<text x="222" y="186.4" class="lg" textLength="36" lengthAdjust="spacingAndGlyphs">INFLUENZA A H1N1</text>
<rect x="212" y="189.3" width="8.5" height="2.4" fill="#ffff00"/>
<text x="222" y="191.9" class="lg" textLength="62.5" lengthAdjust="spacingAndGlyphs">INFLUENZA A NO SUBTIPIFICADO</text>
<rect x="212" y="194.70000000000002" width="8.5" height="2.4" fill="#9dc3e6"/>
<text x="221.5" y="197.3" class="lg" textLength="24.5" lengthAdjust="spacingAndGlyphs">RHINOVIRUS</text>
<line x1="114.4" y1="201.6" x2="123.6" y2="201.6" stroke="#c5e0b3" stroke-width="1.3"/>
<text x="124.8" y="203.2" class="lg" textLength="31" lengthAdjust="spacingAndGlyphs">% de Positividad</text>
<text x="212.75" y="202.5" class="lg" textLength="63.8" lengthAdjust="spacingAndGlyphs">OVR: OTROS VIRUS RESPIRATORIOS</text>
<text x="239.2" y="176.1" class="sem" textLength="58.8" lengthAdjust="spacingAndGlyphs">Semanas Epidemiológicas</text>
<text x="190" y="167.6" class="tiny" textLength="10" lengthAdjust="spacingAndGlyphs">2025/2026</text>
<line x1="299" y1="168.25" x2="400" y2="168.25" stroke="#333" stroke-width="0.9"/>
<line x1="299" y1="176.0" x2="400" y2="176.0" stroke="#333" stroke-width="0.9"/>
<line x1="299.4" y1="240.1" x2="400" y2="240.1" stroke="#333" stroke-width="0.8"/>
<text x="366.9" y="175.2" class="th" text-anchor="middle">01</text>
<text x="386.0" y="175.2" class="th" text-anchor="middle">02</text>
<text x="299.8" y="182.15" class="tb" textLength="29.7" lengthAdjust="spacingAndGlyphs">RHINOVIRUS</text>
<text x="366.9" y="182.15" class="tv" text-anchor="middle">35</text>
<text x="386.0" y="182.15" class="tv" text-anchor="middle">26</text>
<text x="299.8" y="188.44" class="tb" textLength="25.2" lengthAdjust="spacingAndGlyphs">SARS-COV-2</text>
<text x="366.9" y="188.44" class="tv" text-anchor="middle">11</text>
<text x="386.0" y="188.44" class="tv" text-anchor="middle">9</text>
<text x="299.8" y="194.73" class="tb" textLength="31.7" lengthAdjust="spacingAndGlyphs">INFLUENZA A NO</text>
<text x="366.9" y="197.88" class="tv" text-anchor="middle">5</text>
<text x="386.0" y="197.88" class="tv" text-anchor="middle">11</text>
<text x="299.8" y="201.02" class="tb" textLength="32.1" lengthAdjust="spacingAndGlyphs">SUBTIPIFICADO</text>
<text x="299.8" y="207.31" class="tb" textLength="35.2" lengthAdjust="spacingAndGlyphs">PARAINFLUENZA</text>
<text x="366.9" y="207.31" class="tv" text-anchor="middle">9</text>
<text x="386.0" y="207.31" class="tv" text-anchor="middle">7</text>
<text x="299.8" y="213.60" class="tb" textLength="40.4" lengthAdjust="spacingAndGlyphs">INFLUENZA A H3N2</text>
<text x="366.9" y="213.60" class="tv" text-anchor="middle">14</text>
<text x="386.0" y="213.60" class="tv" text-anchor="middle">10</text>
<text x="299.8" y="219.89" class="tb" textLength="27" lengthAdjust="spacingAndGlyphs">INFLUENZA B</text>
<text x="366.9" y="219.89" class="tv" text-anchor="middle">11</text>
<text x="386.0" y="219.89" class="tv" text-anchor="middle">10</text>
<text x="299.8" y="226.18" class="tb" textLength="26.5" lengthAdjust="spacingAndGlyphs">ADENOVIRUS</text>
<text x="366.9" y="226.18" class="tv" text-anchor="middle">2</text>
<text x="386.0" y="226.18" class="tv" text-anchor="middle">2</text>
<text x="299.8" y="232.47" class="tb" textLength="37.5" lengthAdjust="spacingAndGlyphs">METAPNEUMOVIRUS</text>
<text x="366.9" y="232.47" class="tv" text-anchor="middle">5</text>
<text x="386.0" y="232.47" class="tv" text-anchor="middle">6</text>
<text x="299.8" y="238.76" class="tb" textLength="9" lengthAdjust="spacingAndGlyphs">VSR</text>
<text x="366.9" y="238.76" class="tv" text-anchor="middle">1</text>
<text x="386.0" y="238.76" class="tv" text-anchor="middle">1</text>
<text x="0" y="245.7" class="ft" textLength="72.5" lengthAdjust="spacingAndGlyphs">INFECCIÓN RESPIRATORIA AGUDA GRAVE</text>
<text x="208.75" y="247.3" class="src" textLength="13" lengthAdjust="spacingAndGlyphs" font-weight="bold">Fuente:</text>
<text x="223.5" y="247.3" class="src" textLength="176.5" lengthAdjust="spacingAndGlyphs">Laboratorio Central de Salud Pública (LCSP)/Laboratorios Centros Centinelas/Laboratorios R</text>
<rect x="208.75" y="248.3" width="12.8" height="0.55" fill="#222"/>
</svg>
</body></html>
